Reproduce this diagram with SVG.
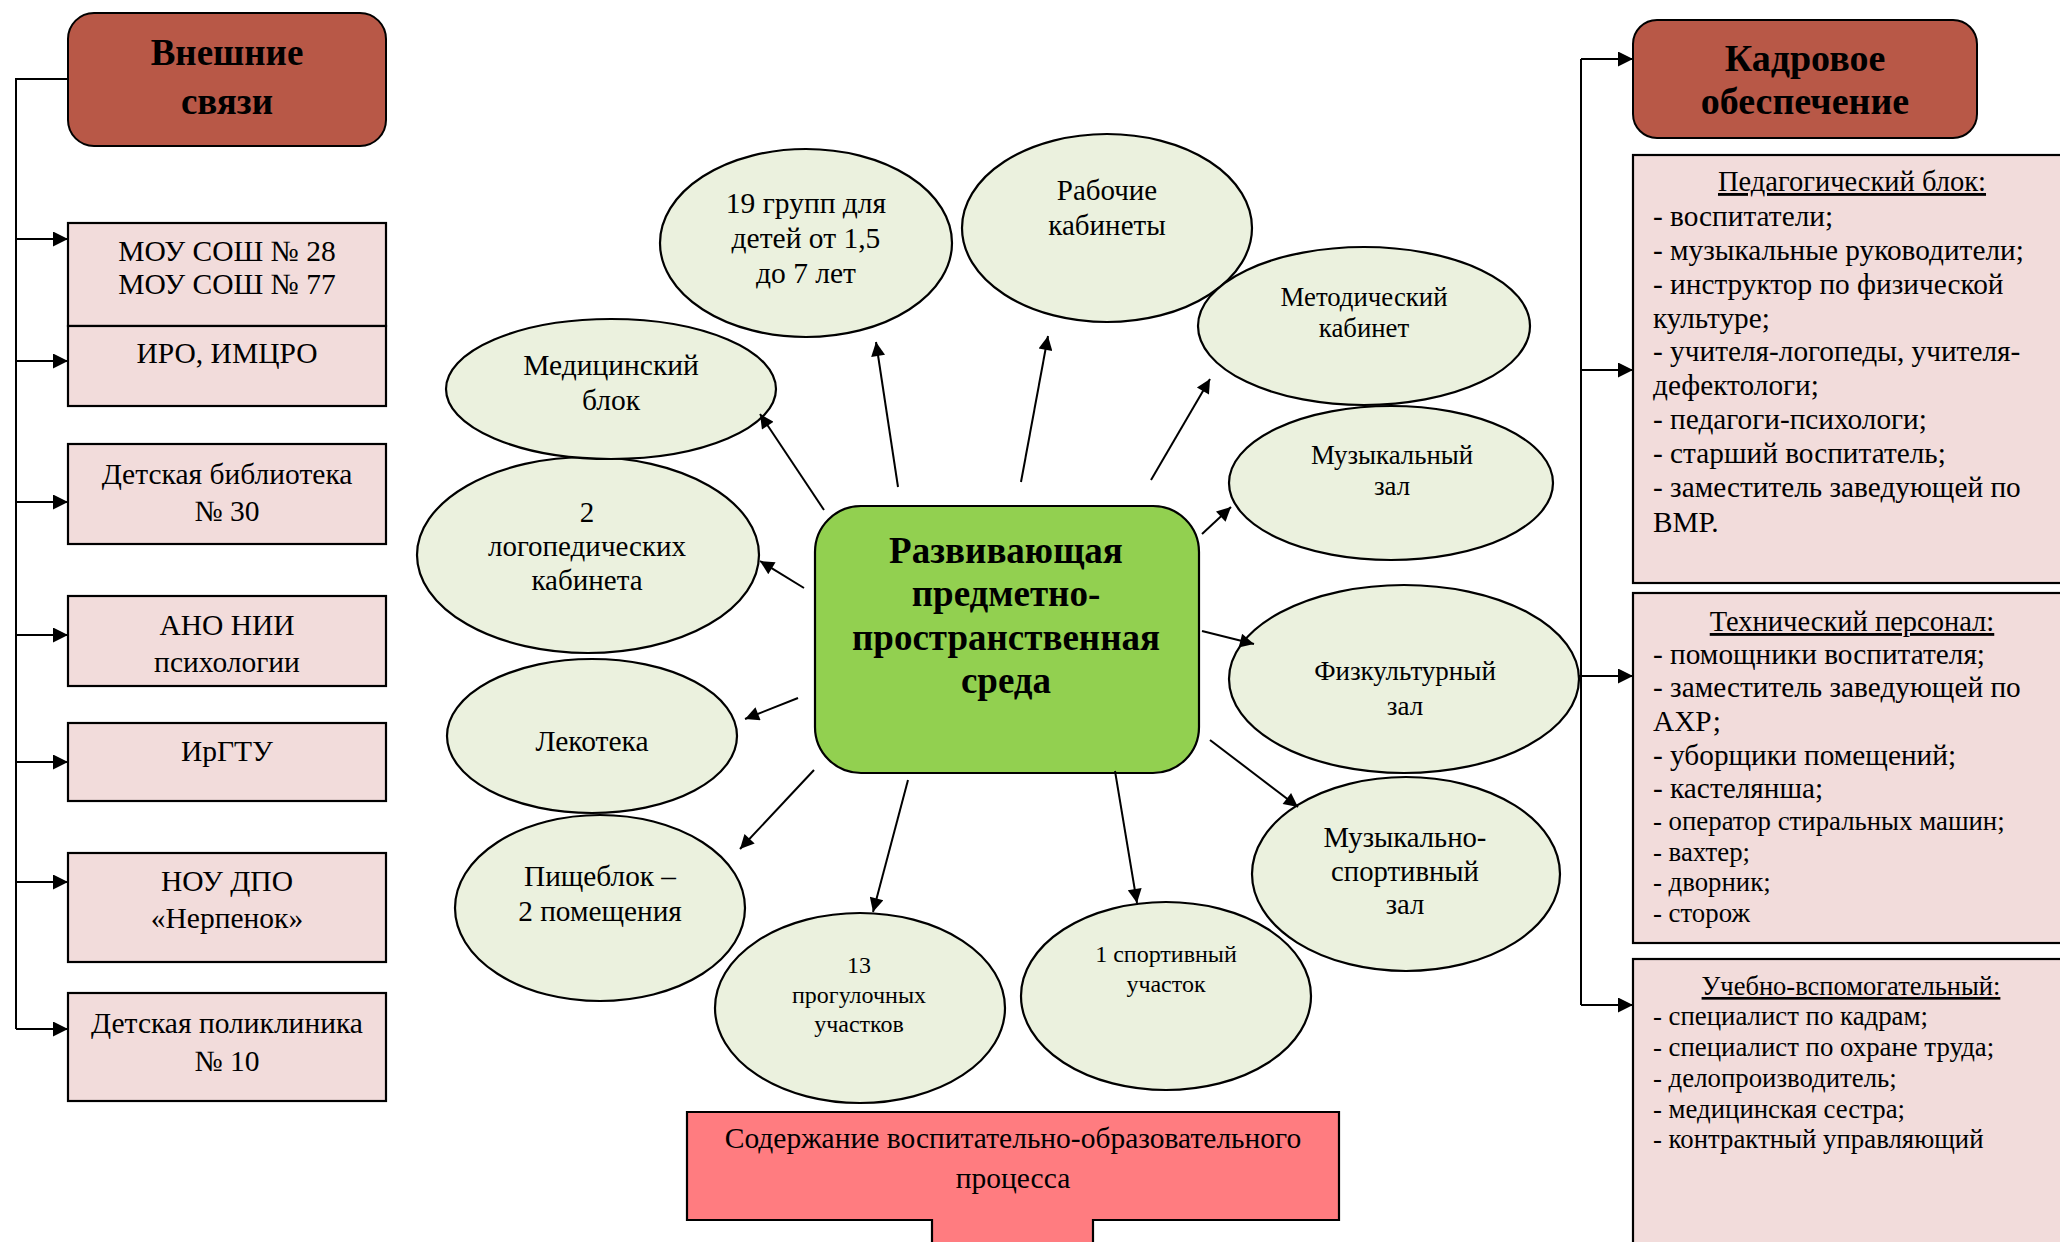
<svg xmlns="http://www.w3.org/2000/svg" width="2060" height="1242" viewBox="0 0 2060 1242">
<style>
.hdr{fill:#B85847;stroke:#000;stroke-width:2}
.box{fill:#F2DCDB;stroke:#000;stroke-width:2.2}
.ell{fill:#EBF1DE;stroke:#000;stroke-width:2.2}
.t{font-family:"Liberation Serif","Times New Roman",serif;fill:#000}
.c{text-anchor:middle}
.b{font-weight:bold}
.ln{fill:none;stroke:#000;stroke-width:2}
.u{text-decoration:underline}
</style>
<defs>
<marker id="ah" viewBox="0 0 10 10" refX="10" refY="5" markerWidth="20" markerHeight="14" markerUnits="userSpaceOnUse" orient="auto"><path d="M0,0 L10,5 L0,10 z" fill="#000"/></marker>
<marker id="ah2" viewBox="0 0 10 10" refX="10" refY="5" markerWidth="19" markerHeight="15" markerUnits="userSpaceOnUse" orient="auto"><path d="M0,0 L10,5 L0,10 z" fill="#000"/></marker>
</defs>
<rect width="2060" height="1242" fill="#fff"/>

<!-- Left column -->
<g id="vneshnie">
<rect class="hdr" x="68" y="13" width="318" height="133" rx="26"/>
<text class="t c b" x="227" y="65" font-size="37">Внешние</text>
<text class="t c b" x="227" y="114" font-size="37">связи</text>
</g>
<g id="mou">
<rect class="box" x="68" y="223" width="318" height="103"/>
<text class="t c" x="227" y="261" font-size="29.5">МОУ СОШ № 28</text>
<text class="t c" x="227" y="294" font-size="29.5">МОУ СОШ № 77</text>
</g>
<g id="iro">
<rect class="box" x="68" y="326" width="318" height="80"/>
<text class="t c" x="227" y="363" font-size="29.5">ИРО, ИМЦРО</text>
</g>
<g id="biblio">
<rect class="box" x="68" y="444" width="318" height="100"/>
<text class="t c" x="227" y="484" font-size="29.5">Детская библиотека</text>
<text class="t c" x="227" y="521" font-size="29.5">№ 30</text>
</g>
<g id="ano">
<rect class="box" x="68" y="596" width="318" height="90"/>
<text class="t c" x="227" y="635" font-size="29.5">АНО НИИ</text>
<text class="t c" x="227" y="672" font-size="29.5">психологии</text>
</g>
<g id="irgtu">
<rect class="box" x="68" y="723" width="318" height="78"/>
<text class="t c" x="227" y="761" font-size="29.5">ИрГТУ</text>
</g>
<g id="nou">
<rect class="box" x="68" y="853" width="318" height="109"/>
<text class="t c" x="227" y="891" font-size="29.5">НОУ ДПО</text>
<text class="t c" x="227" y="928" font-size="29.5">«Нерпенок»</text>
</g>
<g id="poliklinika">
<rect class="box" x="68" y="993" width="318" height="108"/>
<text class="t c" x="227" y="1033" font-size="29.5">Детская поликлиника</text>
<text class="t c" x="227" y="1071" font-size="29.5">№ 10</text>
</g>

<!-- Right column -->
<g id="kadrovoe">
<rect class="hdr" x="1633" y="20" width="344" height="118" rx="24"/>
<text class="t c b" x="1805" y="71" font-size="38">Кадровое</text>
<text class="t c b" x="1805" y="114" font-size="38">обеспечение</text>
</g>
<g id="ped">
<rect class="box" x="1633" y="155" width="450" height="428"/>
<text class="t c u" x="1852" y="191" font-size="28.5">Педагогический блок:</text>
<text class="t" x="1653" y="226" font-size="29.3">- воспитатели;</text>
<text class="t" x="1653" y="260" font-size="29.3">- музыкальные руководители;</text>
<text class="t" x="1653" y="294" font-size="29.3">- инструктор по физической</text>
<text class="t" x="1653" y="328" font-size="29.3">культуре;</text>
<text class="t" x="1653" y="361" font-size="29.3">- учителя-логопеды, учителя-</text>
<text class="t" x="1653" y="395" font-size="29.3">дефектологи;</text>
<text class="t" x="1653" y="429" font-size="29.3">- педагоги-психологи;</text>
<text class="t" x="1653" y="463" font-size="29.3">- старший воспитатель;</text>
<text class="t" x="1653" y="497" font-size="29.3">- заместитель заведующей по</text>
<text class="t" x="1653" y="532" font-size="29.3">ВМР.</text>
</g>
<g id="tech">
<rect class="box" x="1633" y="593" width="450" height="350"/>
<text class="t c u" x="1852" y="631" font-size="28.5">Технический персонал:</text>
<text class="t" x="1653" y="664" font-size="29.3">- помощники воспитателя;</text>
<text class="t" x="1653" y="697" font-size="29.3">- заместитель заведующей по</text>
<text class="t" x="1653" y="731" font-size="29.3">АХР;</text>
<text class="t" x="1653" y="765" font-size="29.3">- уборщики помещений;</text>
<text class="t" x="1653" y="798" font-size="29.3">- кастелянша;</text>
<text class="t" x="1653" y="830" font-size="26.8">- оператор стиральных машин;</text>
<text class="t" x="1653" y="861" font-size="26.8">- вахтер;</text>
<text class="t" x="1653" y="891" font-size="26.8">- дворник;</text>
<text class="t" x="1653" y="922" font-size="26.8">- сторож</text>
</g>
<g id="uchebno">
<rect class="box" x="1633" y="959" width="450" height="300"/>
<text class="t c u" x="1851" y="995" font-size="26.5">Учебно-вспомогательный:</text>
<text class="t" x="1653" y="1025" font-size="26.8">- специалист по кадрам;</text>
<text class="t" x="1653" y="1056" font-size="26.8">- специалист по охране труда;</text>
<text class="t" x="1653" y="1087" font-size="26.8">- делопроизводитель;</text>
<text class="t" x="1653" y="1118" font-size="26.8">- медицинская сестра;</text>
<text class="t" x="1653" y="1148" font-size="26.8">- контрактный управляющий</text>
</g>

<!-- Center -->
<g id="sreda">
<rect x="815" y="506" width="384" height="267" rx="46" fill="#92D050" stroke="#000" stroke-width="2.2"/>
<text class="t c b" x="1006" y="563" font-size="37">Развивающая</text>
<text class="t c b" x="1006" y="606" font-size="37">предметно-</text>
<text class="t c b" x="1006" y="650" font-size="37">пространственная</text>
<text class="t c b" x="1006" y="693" font-size="37">среда</text>
</g>
<g id="gruppy">
<ellipse class="ell" cx="806" cy="243" rx="146" ry="94"/>
<text class="t c" x="806" y="213" font-size="29.5">19 групп для</text>
<text class="t c" x="806" y="248" font-size="29.5">детей от 1,5</text>
<text class="t c" x="806" y="283" font-size="29.5">до 7 лет</text>
</g>
<g id="rabochie">
<ellipse class="ell" cx="1107" cy="228" rx="145" ry="94"/>
<text class="t c" x="1107" y="200" font-size="29">Рабочие</text>
<text class="t c" x="1107" y="235" font-size="29">кабинеты</text>
</g>
<g id="metod">
<ellipse class="ell" cx="1364" cy="326" rx="166" ry="79"/>
<text class="t c" x="1364" y="306" font-size="26.8">Методический</text>
<text class="t c" x="1364" y="337" font-size="26.8">кабинет</text>
</g>
<g id="muz">
<ellipse class="ell" cx="1391" cy="483" rx="162" ry="77"/>
<text class="t c" x="1392" y="464" font-size="26.8">Музыкальный</text>
<text class="t c" x="1392" y="495" font-size="26.8">зал</text>
</g>
<g id="fiz">
<ellipse class="ell" cx="1404" cy="679" rx="175" ry="94"/>
<text class="t c" x="1405" y="680" font-size="27">Физкультурный</text>
<text class="t c" x="1405" y="715" font-size="27">зал</text>
</g>
<g id="muzsport">
<ellipse class="ell" cx="1406" cy="874" rx="154" ry="97"/>
<text class="t c" x="1405" y="847" font-size="28.7">Музыкально-</text>
<text class="t c" x="1405" y="881" font-size="28.7">спортивный</text>
<text class="t c" x="1405" y="914" font-size="28.7">зал</text>
</g>
<g id="sportuch">
<ellipse class="ell" cx="1166" cy="996" rx="145" ry="94"/>
<text class="t c" x="1166" y="962" font-size="24">1 спортивный</text>
<text class="t c" x="1166" y="992" font-size="24">участок</text>
</g>
<g id="progul">
<ellipse class="ell" cx="860" cy="1008" rx="145" ry="95"/>
<text class="t c" x="859" y="973" font-size="24">13</text>
<text class="t c" x="859" y="1003" font-size="24">прогулочных</text>
<text class="t c" x="859" y="1032" font-size="24">участков</text>
</g>
<g id="pishcheblok">
<ellipse class="ell" cx="600" cy="908" rx="145" ry="93"/>
<text class="t c" x="600" y="886" font-size="29.3">Пищеблок –</text>
<text class="t c" x="600" y="921" font-size="29.3">2 помещения</text>
</g>
<g id="lekoteka">
<ellipse class="ell" cx="592" cy="736" rx="145" ry="77"/>
<text class="t c" x="592" y="751" font-size="29.5">Лекотека</text>
</g>
<g id="logoped">
<ellipse class="ell" cx="588" cy="555" rx="171" ry="98"/>
<text class="t c" x="587" y="522" font-size="29">2</text>
<text class="t c" x="587" y="556" font-size="29">логопедических</text>
<text class="t c" x="587" y="590" font-size="29">кабинета</text>
</g>
<g id="medblok">
<ellipse class="ell" cx="611" cy="389" rx="165" ry="70"/>
<text class="t c" x="611" y="375" font-size="29.5">Медицинский</text>
<text class="t c" x="611" y="410" font-size="29.5">блок</text>
</g>

<!-- Bottom -->
<g id="soderzhanie">
<path d="M687,1112 H1339 V1220 H1093 V1252 H932 V1220 H687 Z" fill="#FF7C80" stroke="#000" stroke-width="2.2"/>
<text class="t c" x="1013" y="1148" font-size="29.5">Содержание воспитательно-образовательного</text>
<text class="t c" x="1013" y="1188" font-size="29.5">процесса</text>
</g>

<!-- Connectors -->
<g id="connectors">
<polyline class="ln" points="68,79 16,79 16,1029"/>
<line class="ln" x1="16" y1="239" x2="68" y2="239" marker-end="url(#ah2)"/>
<line class="ln" x1="16" y1="361" x2="68" y2="361" marker-end="url(#ah2)"/>
<line class="ln" x1="16" y1="502" x2="68" y2="502" marker-end="url(#ah2)"/>
<line class="ln" x1="16" y1="635" x2="68" y2="635" marker-end="url(#ah2)"/>
<line class="ln" x1="16" y1="762" x2="68" y2="762" marker-end="url(#ah2)"/>
<line class="ln" x1="16" y1="882" x2="68" y2="882" marker-end="url(#ah2)"/>
<line class="ln" x1="16" y1="1029" x2="68" y2="1029" marker-end="url(#ah2)"/>

<line class="ln" x1="1581" y1="59" x2="1581" y2="1005"/>
<line class="ln" x1="1581" y1="59" x2="1633" y2="59" marker-end="url(#ah2)"/>
<line class="ln" x1="1581" y1="370" x2="1633" y2="370" marker-end="url(#ah2)"/>
<line class="ln" x1="1579" y1="676" x2="1633" y2="676" marker-end="url(#ah2)"/>
<line class="ln" x1="1581" y1="1005" x2="1633" y2="1005" marker-end="url(#ah2)"/>

<line class="ln" x1="824" y1="510" x2="760" y2="414" marker-end="url(#ah)"/>
<line class="ln" x1="898" y1="487" x2="876" y2="342" marker-end="url(#ah)"/>
<line class="ln" x1="1021" y1="482" x2="1048" y2="336" marker-end="url(#ah)"/>
<line class="ln" x1="1151" y1="480" x2="1210" y2="379" marker-end="url(#ah)"/>
<line class="ln" x1="1202" y1="534" x2="1231" y2="507" marker-end="url(#ah)"/>
<line class="ln" x1="1202" y1="631" x2="1254" y2="644" marker-end="url(#ah)"/>
<line class="ln" x1="1210" y1="740" x2="1298" y2="807" marker-end="url(#ah)"/>
<line class="ln" x1="1115" y1="771" x2="1137" y2="903" marker-end="url(#ah)"/>
<line class="ln" x1="908" y1="780" x2="873" y2="912" marker-end="url(#ah)"/>
<line class="ln" x1="814" y1="770" x2="740" y2="849" marker-end="url(#ah)"/>
<line class="ln" x1="798" y1="698" x2="745" y2="719" marker-end="url(#ah)"/>
<line class="ln" x1="804" y1="588" x2="760" y2="561" marker-end="url(#ah)"/>
</g>
</svg>
